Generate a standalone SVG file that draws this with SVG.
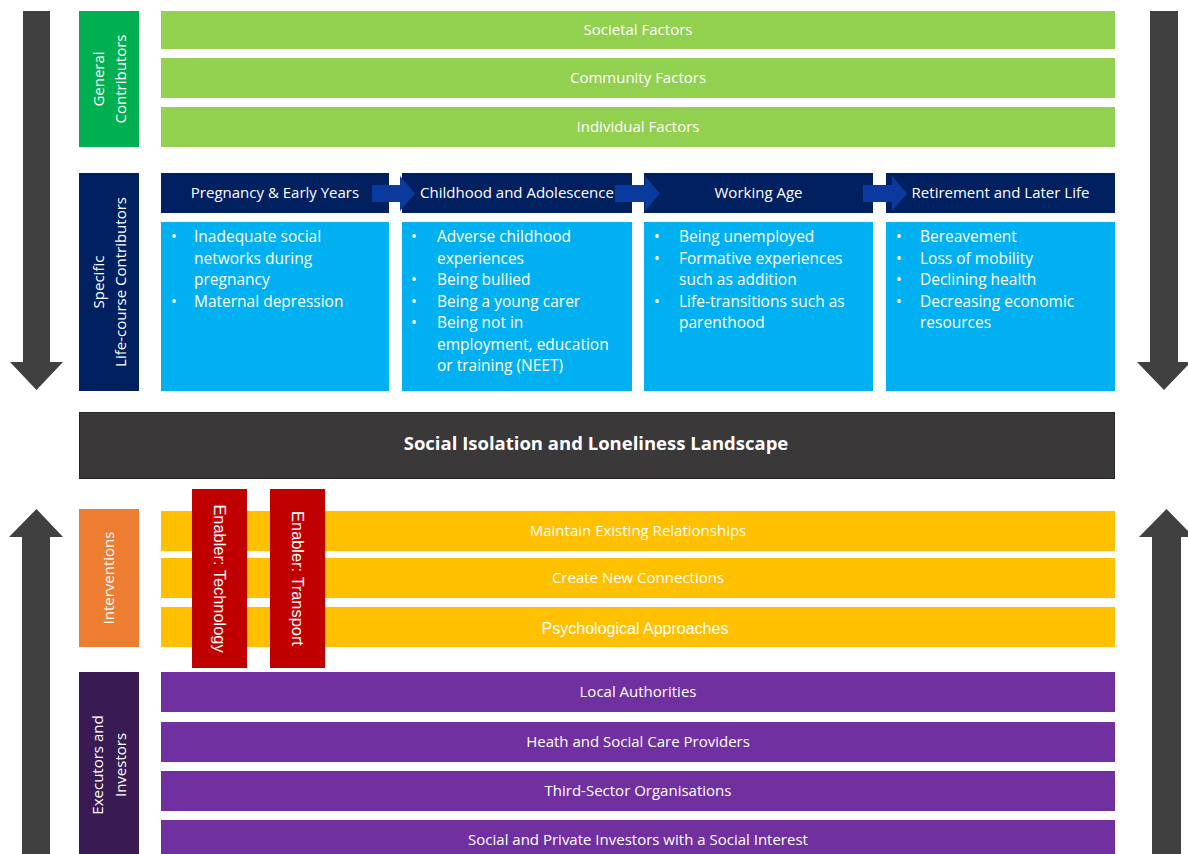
<svg xmlns="http://www.w3.org/2000/svg" width="1188" height="854" viewBox="0 0 1188 854">
<style>
.t{font-family:"Open Sans","Noto Sans",sans-serif;fill:#ffffff;font-size:15px}
.c{text-anchor:middle}
.b{font-size:15.5px}
.arial{font-family:"Liberation Sans",Arial,sans-serif;fill:#ffffff}
.big{fill:#404040}
.stage{fill:#0B3A9E}
.green{fill:#92D050}
.yellow{fill:#FFC000}
.purple{fill:#7030A0}
.navy{fill:#002060}
.sky{fill:#00B0F0}
.red{fill:#C00000}
</style>
<rect width="1188" height="854" fill="#ffffff"/>

<g id="general-contributors">
<rect x="79" y="11" width="60" height="136" fill="#00B050"/>
<text class="t c" transform="translate(109,79) rotate(-90)"><tspan x="0" y="-5">General</tspan><tspan x="0" y="17">Contributors</tspan></text>
</g>
<g id="societal"><rect class="green" x="161" y="11" width="954" height="38"/><text class="t c" x="638" y="30" dy="0.35em">Societal Factors</text></g>
<g id="community"><rect class="green" x="161" y="58" width="954" height="40"/><text class="t c" x="638" y="78" dy="0.35em">Community Factors</text></g>
<g id="individual"><rect class="green" x="161" y="107" width="954" height="40"/><text class="t c" x="638" y="127" dy="0.35em">Individual Factors</text></g>

<g id="specific-contributors">
<rect class="navy" x="79" y="173" width="60" height="218"/>
<text class="t c" transform="translate(109,282) rotate(-90)"><tspan x="0" y="-5">Specific</tspan><tspan x="0" y="17">Life-course Contributors</tspan></text>
</g>

<g id="stage-boxes">
<rect class="navy" x="161" y="173" width="228" height="40"/>
<rect class="navy" x="402" y="173" width="230" height="40"/>
<rect class="navy" x="644" y="173" width="229" height="40"/>
<rect class="navy" x="886" y="173" width="229" height="40"/>
</g>

<g id="connectors">
<polygon class="stage" points="372,185 400,185 400,176 415,193.5 400,211 400,202 372,202"/>
<polygon class="stage" points="615,185 645,185 645,176 660,193.5 645,211 645,202 615,202"/>
<polygon class="stage" points="863,185 892,185 892,176 907,193.5 892,211 892,202 863,202"/>
<polygon class="big" points="23,11 50,11 50,362 63,362 36.5,390 10,362 23,362"/>
<polygon class="big" points="1150,11 1178,11 1178,362 1191,362 1164,390 1137,362 1150,362"/>
<polygon class="big" points="36.5,509 63,537 50,537 50,860 22,860 22,537 9,537"/>
<polygon class="big" points="1166.5,509 1194,537 1181,537 1181,860 1152,860 1152,537 1139,537"/>
</g>

<g id="pregnancy">
<text class="t c" x="275" y="193" dy="0.35em">Pregnancy &amp; Early Years</text>
<rect class="sky" x="161" y="222" width="228" height="169"/>
<text class="t b"><tspan x="171" y="242">•</tspan><tspan x="194" y="242">Inadequate social</tspan><tspan x="194" y="263.5">networks during</tspan><tspan x="194" y="285">pregnancy</tspan><tspan x="171" y="306.5">•</tspan><tspan x="194" y="306.5">Maternal depression</tspan></text>
</g>

<g id="childhood">
<text class="t c" x="517" y="193" dy="0.35em">Childhood and Adolescence</text>
<rect class="sky" x="402" y="222" width="230" height="169"/>
<text class="t b"><tspan x="411" y="242">•</tspan><tspan x="437" y="242">Adverse childhood</tspan><tspan x="437" y="263.5">experiences</tspan><tspan x="411" y="285">•</tspan><tspan x="437" y="285">Being bullied</tspan><tspan x="411" y="306.5">•</tspan><tspan x="437" y="306.5">Being a young carer</tspan><tspan x="411" y="328">•</tspan><tspan x="437" y="328">Being not in</tspan><tspan x="437" y="349.5">employment, education</tspan><tspan x="437" y="371">or training (NEET)</tspan></text>
</g>

<g id="working-age">
<text class="t c" x="758.5" y="193" dy="0.35em">Working Age</text>
<rect class="sky" x="644" y="222" width="229" height="169"/>
<text class="t b"><tspan x="654" y="242">•</tspan><tspan x="679" y="242">Being unemployed</tspan><tspan x="654" y="263.5">•</tspan><tspan x="679" y="263.5">Formative experiences</tspan><tspan x="679" y="285">such as addition</tspan><tspan x="654" y="306.5">•</tspan><tspan x="679" y="306.5">Life-transitions such as</tspan><tspan x="679" y="328">parenthood</tspan></text>
</g>

<g id="retirement">
<text class="t c" x="1000.5" y="193" dy="0.35em">Retirement and Later Life</text>
<rect class="sky" x="886" y="222" width="229" height="169"/>
<text class="t b"><tspan x="896" y="242">•</tspan><tspan x="920" y="242">Bereavement</tspan><tspan x="896" y="263.5">•</tspan><tspan x="920" y="263.5">Loss of mobility</tspan><tspan x="896" y="285">•</tspan><tspan x="920" y="285">Declining health</tspan><tspan x="896" y="306.5">•</tspan><tspan x="920" y="306.5">Decreasing economic</tspan><tspan x="920" y="328">resources</tspan></text>
</g>

<g id="landscape">
<rect x="79.5" y="412.5" width="1035" height="66" fill="#3A3838" stroke="#262626" stroke-width="1"/>
<text class="t c" x="596" y="444" dy="0.35em" style="font-size:18.5px;font-weight:bold">Social Isolation and Loneliness Landscape</text>
</g>

<g id="interventions">
<rect x="79" y="509" width="60" height="138" fill="#ED7D31"/>
<text class="t c" transform="translate(109,578) rotate(-90)" y="0" dy="0.35em">Interventions</text>
</g>
<g id="maintain"><rect class="yellow" x="161" y="511" width="954" height="40"/><text class="t c" x="638" y="531" dy="0.35em">Maintain Existing Relationships</text></g>
<g id="create"><rect class="yellow" x="161" y="558" width="954" height="40"/><text class="t c" x="638" y="578" dy="0.35em">Create New Connections</text></g>
<g id="psychological"><rect class="yellow" x="161" y="607" width="954" height="40"/><text class="arial c" x="635" y="628" dy="0.35em" style="font-size:16px">Psychological Approaches</text></g>

<g id="enabler-technology">
<rect class="red" x="192" y="489" width="55" height="179"/>
<text class="arial c" transform="translate(219.5,578.5) rotate(90)" y="0" dy="0.35em" style="font-size:16.4px">Enabler: Technology</text>
</g>
<g id="enabler-transport">
<rect class="red" x="270" y="489" width="55" height="179"/>
<text class="arial c" transform="translate(297.5,578.5) rotate(90)" y="0" dy="0.35em" style="font-size:16.4px">Enabler: Transport</text>
</g>

<g id="executors">
<rect x="79" y="672" width="60" height="190" fill="#3A1A52"/>
<text class="t c" transform="translate(109,765) rotate(-90)"><tspan x="0" y="-6">Executors and</tspan><tspan x="0" y="17">Investors</tspan></text>
</g>
<g id="local"><rect class="purple" x="161" y="672" width="954" height="40"/><text class="t c" x="638" y="692" dy="0.35em">Local Authorities</text></g>
<g id="health"><rect class="purple" x="161" y="722" width="954" height="40"/><text class="t c" x="638" y="742" dy="0.35em">Heath and Social Care Providers</text></g>
<g id="third-sector"><rect class="purple" x="161" y="771" width="954" height="40"/><text class="t c" x="638" y="791" dy="0.35em">Third-Sector Organisations</text></g>
<g id="investors"><rect class="purple" x="161" y="820" width="954" height="40"/><text class="t c" x="638" y="840" dy="0.35em">Social and Private Investors with a Social Interest</text></g>
</svg>
